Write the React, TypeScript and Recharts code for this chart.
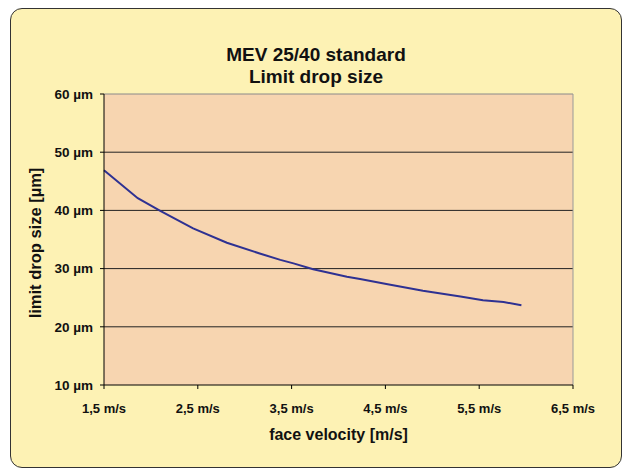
import React from 'react';
import { LineChart, Line, XAxis, YAxis, CartesianGrid, ReferenceLine, Label } from 'recharts';

const velocity = [1.5, 1.86, 2.1, 2.45, 2.81, 3.16, 3.38, 3.52, 3.73, 4.09, 4.23, 4.51, 4.9, 5.3, 5.54, 5.76, 5.95];
const dropSize = [46.9, 42.1, 39.9, 36.9, 34.45, 32.6, 31.5, 30.9, 29.9, 28.6, 28.2, 27.35, 26.2, 25.2, 24.55, 24.26, 23.7];
const xTicks = [1.5, 2.5, 3.5, 4.5, 5.5, 6.5];
const yTicks = [10, 20, 30, 40, 50, 60];
const gridValues = [20, 30, 40, 50];
const titleLines = ['MEV 25/40 standard', 'Limit drop size'];
const xTitle = 'face velocity [m/s]';
const yTitle = 'limit drop size [µm]';

const data = velocity.map((v, i) => ({ v, d: dropSize[i] }));

const FONT = '"Liberation Sans", Arial, Helvetica, sans-serif';

export default function App() {
  return (
    <div style={{ position: 'absolute', left: 0, top: 0, width: 622, height: 470, fontFamily: FONT, background: '#ffffff' }}>
      <div
        style={{
          position: 'absolute',
          left: 10,
          top: 8,
          width: 610,
          height: 458,
          border: '1.5px solid #333',
          borderRadius: 12,
          background: '#FDF2B4',
        }}
      />
      <div
        style={{
          position: 'absolute',
          left: 116,
          width: 400,
          top: 44,
          textAlign: 'center',
          fontSize: 19,
          fontWeight: 'bold',
          lineHeight: '21.6px',
          color: '#111',
        }}
      >
        {titleLines.map((t) => (
          <div key={t}>{t}</div>
        ))}
      </div>
      <div style={{ position: 'absolute', left: 0, top: 0 }}>
        <LineChart width={622} height={470} data={data} margin={{ top: 94, right: 49, bottom: 25, left: 44 }}>
          <CartesianGrid
            fill="#F7D5B0"
            fillOpacity={1}
            vertical={false}
            horizontalValues={gridValues}
            stroke="#222"
            strokeWidth={1}
          />
          <ReferenceLine y={60} stroke="#8a8a8a" strokeWidth={1} />
          <ReferenceLine x={6.5} stroke="#999" strokeWidth={1} />
          <XAxis
            dataKey="v"
            type="number"
            domain={[1.5, 6.5]}
            ticks={xTicks}
            tickFormatter={(v: number) => v.toFixed(1).replace('.', ',') + ' m/s'}
            height={60}
            tickSize={4}
            tickMargin={14.5}
            stroke="#000"
            tick={{ fill: '#111', fontSize: 13, fontWeight: 'bold', fontFamily: FONT }}
            interval={0}
          >
            <Label
              value={xTitle}
              position="insideBottom"
              offset={5}
              style={{ fontSize: 16, fontWeight: 'bold', fill: '#111', fontFamily: FONT }}
            />
          </XAxis>
          <YAxis
            type="number"
            domain={[10, 60]}
            ticks={yTicks}
            tickFormatter={(v: number) => `${v} µm`}
            width={60}
            tickSize={4}
            tickMargin={7}
            stroke="#000"
            tick={{ fill: '#111', fontSize: 13.5, fontWeight: 'bold', fontFamily: FONT }}
            interval={0}
          >
            <Label
              content={() => {
                const cx = 41;
                const cy = 243;
                return (
                  <text
                    x={cx}
                    y={cy}
                    transform={`rotate(-90, ${cx}, ${cy})`}
                    textAnchor="middle"
                    style={{ fontSize: 16.5, fontWeight: 'bold', fill: '#111', fontFamily: FONT }}
                  >
                    {yTitle}
                  </text>
                );
              }}
            />
          </YAxis>
          <Line
            type="linear"
            dataKey="d"
            stroke="#2E3192"
            strokeWidth={2}
            dot={false}
            isAnimationActive={false}
          />
        </LineChart>
      </div>
    </div>
  );
}
